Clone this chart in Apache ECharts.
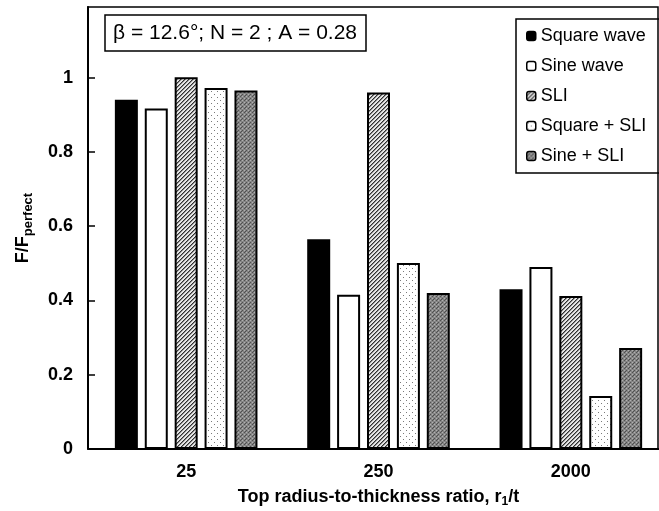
<!DOCTYPE html>
<html>
<head>
<meta charset="utf-8">
<script src="https://cdn.jsdelivr.net/npm/echarts@6/dist/echarts.min.js"></script>
<style>
html,body{margin:0;padding:0;background:#fff;}
#chart{width:659px;height:511px;}
</style>
</head>
<body>
<div id="chart"></div>
<script>
// ---- data ----
var categories = ['25', '250', '2000'];
var seriesNames = ['Square wave', 'Sine wave', 'SLI', 'Square + SLI', 'Sine + SLI'];
var squareWave = [0.940, 0.565, 0.430];
var sineWave = [0.917, 0.415, 0.490];
var sli = [1.001, 0.960, 0.412];
var squarePlusSli = [0.972, 0.501, 0.143];
var sinePlusSli = [0.965, 0.420, 0.272];
var yTicks = [0, 0.2, 0.4, 0.6, 0.8, 1];

// ---- patterns ----
function makeCanvas(w, h, draw) {
  var c = document.createElement('canvas');
  c.width = w; c.height = h;
  var ctx = c.getContext('2d');
  draw(ctx, w, h);
  return c;
}
var hatch = makeCanvas(4, 4, function (ctx, w, h) {
  ctx.fillStyle = '#e6e6e6';
  ctx.fillRect(0, 0, w, h);
  ctx.fillStyle = '#303030';
  for (var i = 0; i < 4; i++) {
    ctx.fillRect(3 - i, i, 1, 1);
  }
  ctx.fillStyle = '#8a8a8a';
  for (var j = 0; j < 4; j++) {
    ctx.fillRect((4 - j) % 4, j, 1, 1);
  }
});
var dots = makeCanvas(6, 6, function (ctx, w, h) {
  ctx.fillStyle = '#ffffff';
  ctx.fillRect(0, 0, w, h);
  ctx.fillStyle = '#7a7a7a';
  ctx.fillRect(1, 1, 1, 1);
  ctx.fillRect(4, 4, 1, 1);
});
var checker = makeCanvas(4, 4, function (ctx, w, h) {
  ctx.fillStyle = '#858585';
  ctx.fillRect(0, 0, w, h);
  ctx.fillStyle = '#505050';
  ctx.fillRect(0, 0, 1, 1);
  ctx.fillRect(2, 2, 1, 1);
  ctx.fillRect(1, 3, 1, 1);
  ctx.fillStyle = '#b0b0b0';
  ctx.fillRect(2, 0, 1, 1);
  ctx.fillRect(0, 2, 1, 1);
});

var fills = [
  '#000000',
  '#ffffff',
  { image: hatch, repeat: 'repeat' },
  { image: dots, repeat: 'repeat' },
  { image: checker, repeat: 'repeat' }
];
var dataSets = [squareWave, sineWave, sli, squarePlusSli, sinePlusSli];

var FONT = 'Liberation Sans, Arial, sans-serif';

var series = seriesNames.map(function (name, i) {
  return {
    name: name,
    type: 'bar',
    data: dataSets[i],
    barWidth: 23,
    barGap: '30%',
    itemStyle: {
      color: fills[i],
      borderColor: '#000',
      borderWidth: i === 0 ? 0 : 2
    },
    emphasis: { disabled: true }
  };
});

var chart = echarts.init(document.getElementById('chart'), null, { renderer: 'canvas' });
chart.setOption({
  animation: false,
  backgroundColor: '#fff',
  textStyle: { fontFamily: FONT },
  title: {
    text: 'β = 12.6°; N = 2 ; A = 0.28',
    left: 105,
    top: 15,
    padding: [8, 9, 7, 8],
    borderColor: '#000',
    borderWidth: 1.5,
    textStyle: { fontFamily: FONT, fontSize: 21, fontWeight: 'normal', color: '#000' }
  },
  legend: {
    orient: 'vertical',
    left: 516,
    top: 19,
    width: 141,
    padding: [8, 20, 8, 10],
    itemGap: 12,
    itemWidth: 9,
    itemHeight: 9,
    itemStyle: { borderColor: '#000', borderWidth: 1.5 },
    borderColor: '#000',
    borderWidth: 1.5,
    data: seriesNames,
    textStyle: { fontFamily: FONT, fontSize: 18, color: '#000', padding: [0, 0, 0, 0] }
  },
  graphic: [{
    type: 'rect',
    shape: { x: 88, y: 7, width: 570, height: 442 },
    style: { fill: null, stroke: '#000', lineWidth: 1.5 },
    silent: true,
    z: 0
  }],
  grid: {
    left: 90,
    width: 577,
    top: 7,
    bottom: 62,
    outerBoundsMode: 'none'
  },
  xAxis: {
    type: 'category',
    data: categories,
    axisLine: { lineStyle: { color: '#000', width: 2 } },
    axisTick: { show: false },
    axisLabel: { color: '#000', fontFamily: FONT, fontSize: 18, fontWeight: 'bold', margin: 14 },
    name: '{a|Top radius-to-thickness ratio, r}{s|1}{a|/t}',
    nameLocation: 'middle',
    nameGap: 37,
    nameTextStyle: {
      rich: {
        a: { fontFamily: FONT, fontSize: 18, fontWeight: 'bold', color: '#000', lineHeight: 21 },
        s: { fontFamily: FONT, fontSize: 12, fontWeight: 'bold', color: '#000', lineHeight: 21, padding: [10, 0, 0, 0] }
      }
    }
  },
  yAxis: {
    type: 'value',
    min: 0,
    max: 1.19,
    interval: 0.2,
    offset: 2,
    splitLine: { show: false },
    axisLine: { show: true, lineStyle: { color: '#000', width: 2 } },
    axisTick: { show: true, inside: true, length: 7, lineStyle: { color: '#000', width: 1.5 } },
    axisLabel: {
      color: '#000', fontFamily: FONT, fontSize: 18, fontWeight: 'bold', margin: 15,
      showMaxLabel: false,
      formatter: function (v) {
        for (var k = 0; k < yTicks.length; k++) {
          if (Math.abs(v - yTicks[k]) < 1e-6) return String(yTicks[k]);
        }
        return '';
      }
    },
    name: '{a|F/F}{s|perfect}',
    nameLocation: 'middle',
    nameRotate: 90,
    nameGap: 54,
    nameTextStyle: {
      rich: {
        a: { fontFamily: FONT, fontSize: 18, fontWeight: 'bold', color: '#000', lineHeight: 21 },
        s: { fontFamily: FONT, fontSize: 13, fontWeight: 'bold', color: '#000', lineHeight: 21, padding: [10, 0, 0, 0] }
      }
    }
  },
  series: series
});
</script>
</body>
</html>
